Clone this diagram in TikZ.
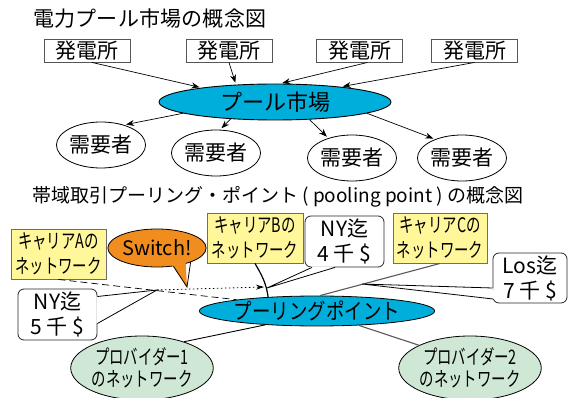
\documentclass[tikz,border=0pt]{standalone}
\usepackage{fontspec}
\setmainfont{Noto Sans CJK JP}
\newfontfamily\cndfont[FakeStretch=0.72]{Noto Sans CJK JP}
\newfontfamily\midfont[FakeStretch=0.84]{Noto Sans CJK JP}
\newfontfamily\spacedfont[LetterSpace=1]{Noto Sans CJK JP}
\usetikzlibrary{shapes.geometric,arrows.meta,calc}
\definecolor{poolblue}{HTML}{00AEDB}
\definecolor{caryellow}{HTML}{FFF799}
\definecolor{swor}{HTML}{F18D1F}
\definecolor{provgreen}{HTML}{CFE7D5}
\definecolor{bordergray}{HTML}{555555}
\begin{document}
\begin{tikzpicture}[x=1pt,y=-1pt,
  titletext/.style={anchor=west,inner sep=0pt,font=\fontsize{21}{24}\selectfont},
  plant/.style={draw=bordergray,line width=0.9pt,minimum width=86pt,minimum height=23pt,inner sep=0pt,font=\fontsize{21}{24}\selectfont},
  market/.style={ellipse,draw=black,line width=0.9pt,fill=poolblue,minimum width=232pt,minimum height=36pt,inner sep=0pt,font=\fontsize{22}{24}\selectfont},
  consumer/.style={ellipse,draw=black,line width=0.8pt,minimum width=72pt,minimum height=46pt,inner sep=0pt,font=\fontsize{21}{24}\selectfont},
  arr/.style={-{Stealth[length=8pt,width=6pt]},line width=0.7pt,shorten >=2pt},
  carrier/.style={draw=bordergray!85,fill=caryellow,line width=0.9pt,inner sep=0pt,align=center,font=\cndfont\fontsize{20}{25}\selectfont},
  price/.style={draw=black!85,fill=white,rounded corners=6pt,line width=0.8pt,inner sep=0pt,align=center,font=\fontsize{21}{25}\selectfont},
  callout/.style={ellipse,draw=black,line width=0.8pt,fill=swor,minimum width=88pt,minimum height=38pt,inner sep=0pt,font=\fontsize{20}{24}\selectfont},
  pooling/.style={ellipse,draw=black,line width=0.8pt,fill=poolblue,minimum width=220pt,minimum height=30pt,inner sep=0pt,font=\midfont\fontsize{22}{24}\selectfont},
  provider/.style={ellipse,draw=black,line width=0.8pt,fill=provgreen,minimum width=132pt,minimum height=64pt,inner sep=0pt,align=center,font=\cndfont\fontsize{20}{22}\selectfont},
  link/.style={line width=0.9pt},
  graylink/.style={line width=1.1pt,draw=black!65}
]
\useasboundingbox (0,0) rectangle (568,398);
\fill[white] (0,0) rectangle (568,398);

% ---------- upper diagram ----------
\node[titletext,font=\spacedfont\fontsize{21}{24}\selectfont] (t1) at (33,19) {電力プール市場の概念図};
\node[plant] (g1) at (87,50.5) {発電所};
\node[plant] (g2) at (229,50.5) {発電所};
\node[plant] (g3) at (359.5,50.5) {発電所};
\node[plant] (g4) at (474.5,50.5) {発電所};
\node[market] (mk) at (275,102) {プール市場};
\node[consumer] (c1) at (101,145) {需要者};
\node[consumer] (c2) at (216,153) {需要者};
\node[consumer] (c3) at (352,158) {需要者};
\node[consumer] (c4) at (462,158) {需要者};

\draw[arr] ($(g1.south)+(5,0)$) -- (mk.169);
\draw[arr] (g2.south) -- (mk.156);
\draw[arr] ($(g3.south)+(8,0)$) -- (mk.74);
\draw[arr] (g4.south) -- (mk.13);
\draw[arr] (mk.187) -- (c1.41);
\draw[arr] (mk.201) -- (c2.80);
\draw[arr] (mk.333) -- (c3.140);
\draw[arr] (mk.353) -- (c4.145);

% ---------- lower diagram ----------
\node[titletext,font=\fontsize{19}{24}\selectfont] (t2) at (32,196.5) {帯域取引プーリング・ポイント ( pooling point ) の概念図};

\node[carrier,minimum width=95pt,minimum height=50pt] (ca) at (58.5,254) {キャリアAの\\ネットワーク};
\node[carrier,minimum width=96pt,minimum height=50pt] (cb) at (255,238) {キャリアBの\\ネットワーク};
\node[carrier,minimum width=94pt,minimum height=50pt] (cc) at (440,238) {キャリアCの\\ネットワーク};
\node[pooling] (pp) at (317,311) {プーリングポイント};
\node[provider] (p1) at (142,368) {プロバイダー1\\のネットワーク};
\node[provider] (p2) at (470,368) {プロバイダー2\\のネットワーク};

\coordinate (ny5tip) at (157,290);
\coordinate (ny4tip) at (267,288);
\coordinate (lostip) at (362,284);
\coordinate (swtip) at (187,287);
\coordinate (dotend) at (264,287);

% connectors
\draw[link,dash pattern=on 7pt off 4pt,line width=0.7pt] (ca.south) -- (pp.172);
\draw[-{Stealth[length=8pt,width=5pt]},line width=0.8pt,dash pattern=on 1.5pt off 2.5pt] (ny5tip) -- (dotend);
\draw[link,line width=1.2pt] (cb.south) to[out=-60,in=98] (pp.164);
\draw[graylink] (cc.south) -- (pp.79);
\draw[link] (pp.195) -- (p1.32);
\draw[graylink] (pp.341) -- (p2.156);

% callout bubble "Switch!"
\node[callout] (sw) at (157,248) {Switch!};
\fill[swor] ($(sw.center)!0.85!(sw.-48)$) -- (swtip) -- ($(sw.center)!0.85!(sw.-23)$) -- cycle;
\draw[line width=0.8pt] (sw.-48) -- (swtip) -- (sw.-23);

% price callouts
\node[price,minimum width=79pt,minimum height=51pt] (ny5) at (57.5,314.5) {NY迄\\5 千 \$};
\fill[white] ($(ny5.east)+(-1,-18)$) -- (ny5tip) -- ($(ny5.east)+(-1,9)$) -- cycle;
\draw[line width=0.8pt] ($(ny5.east)+(0,-18)$) -- (ny5tip) -- ($(ny5.east)+(0,9)$);

\node[price,minimum width=79pt,minimum height=51pt] (ny4) at (344.5,241.5) {NY迄\\4 千 \$};
\fill[white] ($(ny4.south)+(-32.5,-1)$) -- (ny4tip) -- ($(ny4.south)+(-9.5,-1)$) -- cycle;
\draw[line width=0.8pt] ($(ny4.south)+(-32.5,0)$) -- (ny4tip) -- ($(ny4.south)+(-9.5,0)$);

\node[price,minimum width=74pt,minimum height=50pt] (los) at (530,278) {Los迄\\7 千 \$};
\fill[white] ($(los.west)+(1,10)$) -- (lostip) -- ($(los.west)+(1.5,21)$) -- cycle;
\draw[line width=0.8pt] ($(los.west)+(0,10)$) -- (lostip) -- ($(los.west)+(0.6,21)$);
\end{tikzpicture}
\end{document}
